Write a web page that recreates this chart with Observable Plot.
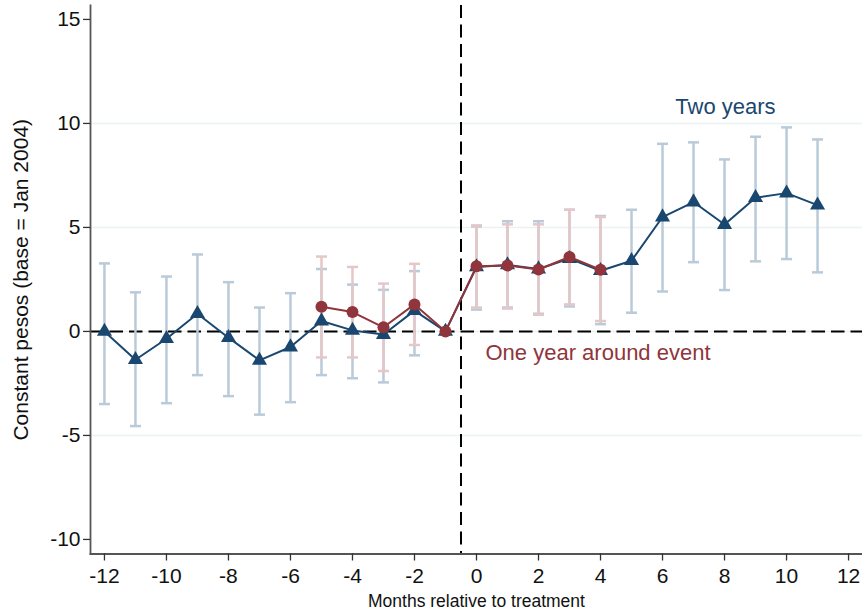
<!DOCTYPE html>
<html>
<head>
<meta charset="utf-8">
<script src="https://cdn.jsdelivr.net/npm/d3@7"></script>
<script src="https://cdn.jsdelivr.net/npm/@observablehq/plot@0.6"></script>
<style>
  body { margin: 0; background: #fff; }
  #chart svg { display: block; background: #fff; }
</style>
</head>
<body>
<div id="chart"></div>
<script>
// ---- Data: "Two years" series (months -12 .. 11) ----
const monthsTwo = [-12, -11, -10, -9, -8, -7, -6, -5, -4, -3, -2, -1, 0, 1, 2, 3, 4, 5, 6, 7, 8, 9, 10, 11];
const estTwo = [0.0, -1.36, -0.35, 0.85, -0.3, -1.39, -0.75, 0.5, 0.05, -0.15, 1.0, 0.0, 3.1, 3.2, 3.0, 3.5, 2.92, 3.4, 5.5, 6.22, 5.14, 6.43, 6.65, 6.07];
const loTwo  = [-3.49, -4.55, -3.45, -2.1, -3.11, -4.0, -3.4, -2.1, -2.25, -2.45, -1.15, null, 1.05, 1.15, 0.85, 1.2, 0.35, 0.9, 1.92, 3.33, 1.99, 3.37, 3.48, 2.84];
const hiTwo  = [3.27, 1.88, 2.64, 3.7, 2.37, 1.15, 1.84, 3.0, 2.25, 2.0, 2.9, null, 5.05, 5.3, 5.3, 5.85, 5.55, 5.85, 9.02, 9.09, 8.27, 9.36, 9.81, 9.23];

// ---- Data: "One year around event" series (months -5 .. 4) ----
const monthsOne = [-5, -4, -3, -2, -1, 0, 1, 2, 3, 4];
const estOne = [1.19, 0.93, 0.2, 1.3, 0.0, 3.13, 3.17, 2.98, 3.58, 2.97];
const loOne  = [-1.25, -1.25, -1.9, -0.65, null, 1.15, 1.1, 0.8, 1.3, 0.5];
const hiOne  = [3.6, 3.1, 2.3, 3.25, null, 5.1, 5.15, 5.15, 5.85, 5.5];

// ---- Axis ticks, reference lines, labels ----
const xTicks = [-12, -10, -8, -6, -4, -2, 0, 2, 4, 6, 8, 10, 12];
const yTicks = [-10, -5, 0, 5, 10, 15];
const gridLines = [-5, 0, 5, 10];
const zeroLine = [0];
const treatmentLine = [-0.5];
const xTitle = "Months relative to treatment";
const yTitle = "Constant pesos (base = Jan 2004)";
const seriesLabels = [
  {x: 8.03, y: 10.8, text: "Two years", series: "two"},
  {x: 0.29, y: -1.05, text: "One year around event", series: "one"}
];

// ---- Build tables ----
const two = monthsTwo.map((m, i) => ({m, est: estTwo[i], lo: loTwo[i], hi: hiTwo[i]}));
const one = monthsOne.map((m, i) => ({m, est: estOne[i], lo: loOne[i], hi: hiOne[i]}));
const twoCI = two.filter(d => d.lo != null);
const oneCI = one.filter(d => d.lo != null);

const blue = "#1a476f", blueCI = "#b9cad8";
const red = "#90353b", redCI = "#e5c7c9";
const font = "'Liberation Sans', Arial, Helvetica, sans-serif";

// horizontal cap symbol (fixed pixel width)
const capSymbol = { draw(ctx) { ctx.moveTo(-5.5, 0); ctx.lineTo(5.5, 0); } };

const chart = Plot.plot({
  width: 862,
  height: 615,
  marginLeft: 90,
  marginRight: 0,
  marginTop: 5,
  marginBottom: 61.5,
  style: { fontFamily: font, fontSize: "21px", background: "#fff", color: "#111" },
  x: { domain: [-12.45, 12.45] },
  y: { domain: [-10.7, 15.67] },
  marks: [
    Plot.ruleY(gridLines, { stroke: "#eaf2f3", strokeWidth: 1.6 }),
    Plot.ruleY(zeroLine, { stroke: "#000", strokeWidth: 2, strokeDasharray: "13.5,6" }),
    Plot.ruleX(treatmentLine, { stroke: "#000", strokeWidth: 2, strokeDasharray: "13,6.5" }),

    // Two years CIs
    Plot.ruleX(twoCI, { x: "m", y1: "lo", y2: "hi", stroke: blueCI, strokeWidth: 2.5 }),
    Plot.dot(twoCI, { x: "m", y: "lo", symbol: capSymbol, stroke: blueCI, strokeWidth: 2.5, fill: "none" }),
    Plot.dot(twoCI, { x: "m", y: "hi", symbol: capSymbol, stroke: blueCI, strokeWidth: 2.5, fill: "none" }),

    // One year CIs
    Plot.ruleX(oneCI, { x: "m", y1: "lo", y2: "hi", stroke: redCI, strokeWidth: 2.5 }),
    Plot.dot(oneCI, { x: "m", y: "lo", symbol: capSymbol, stroke: redCI, strokeWidth: 2.5, fill: "none" }),
    Plot.dot(oneCI, { x: "m", y: "hi", symbol: capSymbol, stroke: redCI, strokeWidth: 2.5, fill: "none" }),

    // Two years line + triangles
    Plot.line(two, { x: "m", y: "est", stroke: blue, strokeWidth: 2 }),
    Plot.dot(two, { x: "m", y: "est", symbol: "triangle", fill: blue, stroke: "none", r: 5.6 }),

    // One year line + circles
    Plot.line(one, { x: "m", y: "est", stroke: red, strokeWidth: 2 }),
    Plot.dot(one, { x: "m", y: "est", symbol: "circle", fill: red, stroke: "none", r: 6 }),

    // series labels
    Plot.text(seriesLabels.filter(d => d.series === "two"), { x: "x", y: "y", text: "text", fill: blue, fontSize: 22, textAnchor: "middle" }),
    Plot.text(seriesLabels.filter(d => d.series === "one"), { x: "x", y: "y", text: "text", fill: red, fontSize: 22, textAnchor: "start" }),

    // axes
    Plot.frame({ anchor: "left", stroke: "#555", strokeWidth: 1.8 }),
    Plot.frame({ anchor: "bottom", stroke: "#555", strokeWidth: 1.8 }),
    Plot.axisX({ ticks: xTicks, tickSize: 7, tickPadding: 7, tickFormat: d => String(d), label: null, stroke: "#333", strokeWidth: 1.3, fill: "#111", fontSize: 21 }),
    Plot.axisY({ ticks: yTicks, tickSize: 7, tickPadding: 3, tickFormat: d => String(d), label: null, stroke: "#333", strokeWidth: 1.3, fill: "#111", fontSize: 21 }),

    // axis titles
    Plot.text([yTitle], { frameAnchor: "left", rotate: -90, dx: -69, textAnchor: "middle", text: d => d, fontSize: 21, fill: "#111" }),
    Plot.text([xTitle], { frameAnchor: "bottom", dy: 53, textAnchor: "middle", text: d => d, fontSize: 17.5, fill: "#111" })
  ]
});

document.getElementById("chart").appendChild(chart);
</script>
</body>
</html>
